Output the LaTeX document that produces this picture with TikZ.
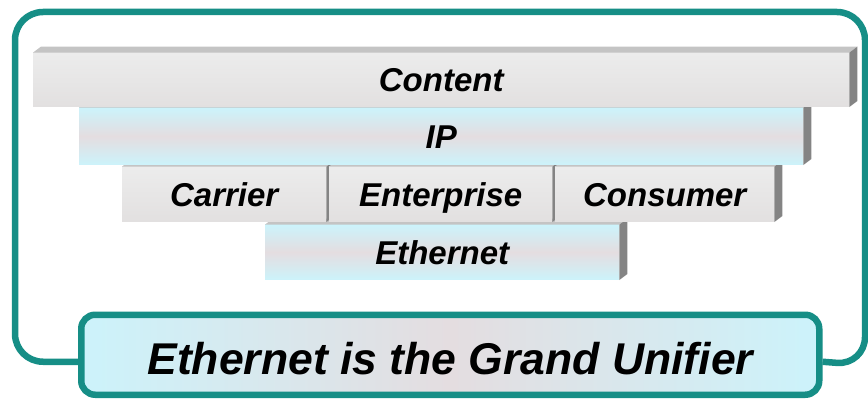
\documentclass[tikz,border=0pt]{standalone}
\usepackage{fontspec}
\setmainfont{Liberation Sans}
\usetikzlibrary{positioning}

\definecolor{frameteal}{RGB}{22,142,134}
\definecolor{facegray}{RGB}{236,236,236}
\definecolor{facegraylow}{RGB}{226,224,224}
\definecolor{bevelgray}{RGB}{196,196,196}
\definecolor{sidegray}{RGB}{132,132,132}
\definecolor{faceblue}{RGB}{204,243,251}
\definecolor{facepink}{RGB}{228,221,224}

% bevel on top and shaded side on the right of a layer box
\newcommand\extrude[1]{%
  \fill[bevelgray] (#1.north west) -- ++(8,6) -- ([shift={(8,6)}]#1.north east) -- (#1.north east) -- cycle;
  \fill[sidegray] (#1.north east) -- ++(8,6) -- ([shift={(8,6)}]#1.south east) -- (#1.south east) -- cycle;}

\begin{document}
\begin{tikzpicture}[x=1pt,y=1pt,
  layer/.style={inner sep=0pt,anchor=south west,text height=23.5pt,text depth=0pt,
    font=\fontsize{33}{37}\selectfont\bfseries\itshape},
  graylayer/.style={layer,top color=facegray,bottom color=facegraylow},
  bluelayer/.style={layer,top color=faceblue,bottom color=faceblue,middle color=facepink},
  frame/.style={draw=frameteal,line width=6.5pt},
  banner/.style={frame,rounded corners=14pt,inner sep=0pt,anchor=south west,
    text height=40pt,text depth=0pt,
    left color=faceblue,right color=faceblue,middle color=facepink,
    font=\fontsize{44.5}{50}\selectfont\bfseries\itshape}]
\useasboundingbox (0,0) rectangle (868,400);

% stack, lowest layer first
\node[bluelayer,minimum width=354,minimum height=55] (ether) at (265,120) {Ethernet};
\extrude{ether}
\node[graylayer,minimum width=204,minimum height=55] (carrier) at (122,178) {Carrier};
\extrude{carrier}
\node[graylayer,minimum width=223,minimum height=55] (enterprise) at (329,178) {Enterprise};
\extrude{enterprise}
\node[graylayer,minimum width=219,minimum height=55] (consumer) at (555,178) {Consumer};
\extrude{consumer}
\node[bluelayer,minimum width=724,minimum height=57] (ip) at (79,235) {IP};
\extrude{ip}
\node[graylayer,minimum width=816,minimum height=54] (content) at (33,293) {Content};
\extrude{content}

\node[banner,minimum width=738,minimum height=80] (unifier) at (78,2) {Ethernet is the Grand Unifier};
\draw[frame,rounded corners=28pt] ([yshift=-7]unifier.west) -| (15,388) -| (865,35) -- ([yshift=-7]unifier.east);
\end{tikzpicture}
\end{document}
